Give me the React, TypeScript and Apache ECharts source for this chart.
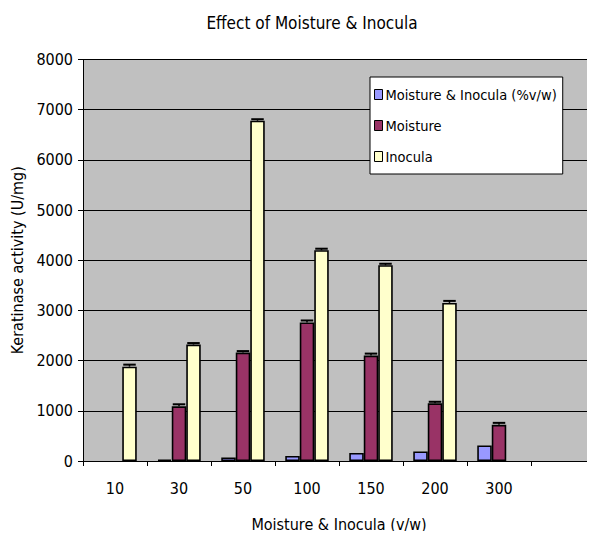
import React, { useEffect, useRef } from "react";
import * as echarts from "echarts";

const categories = ["10", "30", "50", "100", "150", "200", "300", ""];
const seriesNames = ["Moisture & Inocula (%v/w)", "Moisture", "Inocula"];
const mixValues = [null, 30, 70, 100, 160, 190, 310, null];
const moistureValues = [null, 1090, 2160, 2760, 2100, 1150, 720, null];
const inoculaValues = [1880, 2320, 6780, 4200, 3900, 3150, null, null];
const moistureErr = [null, 40, 30, 40, 40, 30, 40, null];
const inoculaErr = [40, 30, 30, 30, 30, 40, null, null];
const colors = ["#9999ff", "#993366", "#ffffcc"];
const yTicks = [0, 1000, 2000, 3000, 4000, 5000, 6000, 7000, 8000];

const FONT = "'DejaVu Sans Condensed', 'Liberation Sans', Arial, sans-serif";
const FS = 16;
const BAR_W = 14.5;

export default function App() {
  const ref = useRef<HTMLDivElement>(null);
  useEffect(() => {
    if (!ref.current) return;
    const chart = echarts.init(ref.current, null, { renderer: "svg" });
    const errData: any[] = [];
    [moistureValues, inoculaValues].forEach((vals, k) => {
      const errs = k === 0 ? moistureErr : inoculaErr;
      vals.forEach((v, i) => {
        if (v != null && errs[i] != null) errData.push([i, v, errs[i], k + 1]);
      });
    });
    chart.setOption({
      animation: false,
      textStyle: { fontFamily: FONT },
      title: {
        text: "Effect of Moisture & Inocula",
        left: 307,
        textAlign: "center",
        top: 9,
        textStyle: { fontFamily: FONT, fontSize: FS + 1, fontWeight: "normal", color: "#000" },
      },
      legend: {
        orient: "vertical",
        left: 370,
        top: 77,
        data: seriesNames,
        backgroundColor: "#ffffff",
        borderColor: "#000",
        borderWidth: 1,
        borderRadius: 0,
        padding: [10, 6, 10, 4],
        itemWidth: 8,
        itemHeight: 10,
        itemGap: 16,
        icon: "rect",
        itemStyle: { borderColor: "#000", borderWidth: 1 },
        textStyle: { fontFamily: FONT, fontSize: 14.5, color: "#000", padding: [0, 0, 0, -2] },
      },
      grid: {
        left: 83,
        right: -1,
        top: 59.5,
        bottom: 78,
        show: true,
        backgroundColor: "#c0c0c0",
        borderWidth: 0,
      },
      xAxis: {
        type: "category",
        data: categories,
        name: "Moisture & Inocula (v/w)",
        nameLocation: "middle",
        nameGap: 55,
        nameTextStyle: { fontFamily: FONT, fontSize: FS, color: "#000" },
        axisLine: { lineStyle: { color: "#000", width: 1 } },
        axisTick: { show: true, length: 5, lineStyle: { color: "#000" } },
        axisLabel: { fontFamily: FONT, fontSize: FS, color: "#000", margin: 19 },
      },
      yAxis: {
        type: "value",
        min: 0,
        max: 8000,
        interval: 1000,
        name: "Keratinase activity (U/mg)",
        nameLocation: "middle",
        nameGap: 57,
        nameTextStyle: { fontFamily: FONT, fontSize: FS, color: "#000" },
        axisLine: { show: true, lineStyle: { color: "#000", width: 1 } },
        axisTick: { show: true, length: 5, lineStyle: { color: "#000" } },
        axisLabel: {
          fontFamily: FONT,
          fontSize: FS,
          color: "#000",
          margin: 10,
          formatter: (v: number) => (yTicks.includes(v) ? String(v) : ""),
        },
        splitLine: { show: true, lineStyle: { color: "#000", width: 1 } },
      },
      series: [
        ...[mixValues, moistureValues, inoculaValues].map((vals, k) => ({
          name: seriesNames[k],
          type: "bar",
          data: vals,
          barWidth: BAR_W,
          barGap: "0%",
          itemStyle: { color: colors[k], borderColor: "#000", borderWidth: 1.6 },
        })),
        {
          type: "custom",
          data: errData,
          z: 10,
          renderItem: (params: any, api: any) => {
            const cat = api.value(0);
            const v = api.value(1);
            const e = api.value(2);
            const s = api.value(3);
            const base = api.coord([cat, v]);
            const top = api.coord([cat, v + e]);
            const cx = base[0] + (s - 1) * BAR_W;
            const half = BAR_W / 2 - 1;
            return {
              type: "group",
              children: [
                {
                  type: "line",
                  shape: { x1: cx, y1: base[1], x2: cx, y2: top[1] },
                  style: { stroke: "#000", lineWidth: 1.5 },
                },
                {
                  type: "line",
                  shape: { x1: cx - half, y1: top[1], x2: cx + half, y2: top[1] },
                  style: { stroke: "#000", lineWidth: 2 },
                },
              ],
            };
          },
        },
      ],
    });
    return () => chart.dispose();
  }, []);
  return <div ref={ref} style={{ width: 595, height: 539, margin: -8 }} />;
}
